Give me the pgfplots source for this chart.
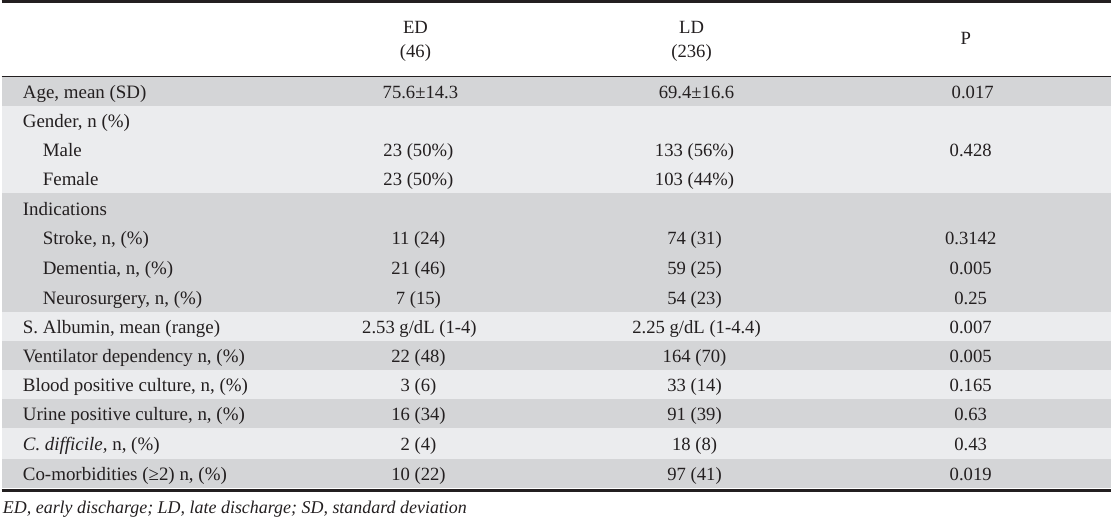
\documentclass[border=0pt]{standalone}
\usepackage{fontspec}
\setmainfont{Liberation Serif}
\usepackage{pgfplots}
\pgfplotsset{compat=1.18}
\definecolor{bandD}{HTML}{D4D5D7}
\definecolor{bandL}{HTML}{EBECEE}
\definecolor{txt}{HTML}{231F20}
\tikzset{tl/.style={font=\fontsize{19}{22}\selectfont,text=txt,inner sep=0pt,anchor=base west},
         tc/.style={font=\fontsize{18.7}{22}\selectfont,text=txt,inner sep=0pt,anchor=base}}
\begin{document}
\begin{tikzpicture}
\begin{axis}[width=1113pt,height=521pt,scale only axis,hide axis,
  xmin=0,xmax=1113,ymin=0,ymax=521,y dir=reverse,clip=false]
% bands
\addplot[fill=bandD,draw=none] coordinates {(0,77) (1113,77) (1113,106) (0,106)} -- cycle;
\addplot[fill=bandL,draw=none] coordinates {(0,106) (1113,106) (1113,194) (0,194)} -- cycle;
\addplot[fill=bandD,draw=none] coordinates {(0,194) (1113,194) (1113,313) (0,313)} -- cycle;
\addplot[fill=bandL,draw=none] coordinates {(0,313) (1113,313) (1113,342) (0,342)} -- cycle;
\addplot[fill=bandD,draw=none] coordinates {(0,342) (1113,342) (1113,371) (0,371)} -- cycle;
\addplot[fill=bandL,draw=none] coordinates {(0,371) (1113,371) (1113,400) (0,400)} -- cycle;
\addplot[fill=bandD,draw=none] coordinates {(0,400) (1113,400) (1113,429) (0,429)} -- cycle;
\addplot[fill=bandL,draw=none] coordinates {(0,429) (1113,429) (1113,460) (0,460)} -- cycle;
\addplot[fill=bandD,draw=none] coordinates {(0,460) (1113,460) (1113,490) (0,490)} -- cycle;
% rules
\addplot[draw=txt,line width=3.5pt] coordinates {(0,1.75) (1113,1.75)};
\addplot[draw=txt,line width=1.3pt] coordinates {(0,77) (1113,77)};
\addplot[draw=txt,line width=3.5pt] coordinates {(0,492) (1113,492)};
\addplot[draw=none] coordinates {(0,0) (1113,521)};
% header
\node[tc] at (axis cs:415,34) {ED};
\node[tc] at (axis cs:415,58) {(46)};
\node[tc] at (axis cs:692,34) {LD};
\node[tc] at (axis cs:692,58) {(236)};
\node[tc] at (axis cs:967,45) {P};
% rows
\node[tl] at (axis cs:21,98.5) {Age, mean (SD)};
\node[tc] at (axis cs:420,98.5) {75.6±14.3};
\node[tc] at (axis cs:697,98.5) {69.4±16.6};
\node[tc] at (axis cs:974,98.5) {0.017};
\node[tl] at (axis cs:21,127.7) {Gender, n (\%)};
\node[tl] at (axis cs:41,157) {Male};
\node[tc] at (axis cs:418,157) {23 (50\%)};
\node[tc] at (axis cs:695,157) {133 (56\%)};
\node[tc] at (axis cs:972,157) {0.428};
\node[tl] at (axis cs:41,186.3) {Female};
\node[tc] at (axis cs:418,186.3) {23 (50\%)};
\node[tc] at (axis cs:695,186.3) {103 (44\%)};
\node[tl] at (axis cs:21,216) {Indications};
\node[tl] at (axis cs:41,245.6) {Stroke, n, (\%)};
\node[tc] at (axis cs:418,245.6) {11 (24)};
\node[tc] at (axis cs:695,245.6) {74 (31)};
\node[tc] at (axis cs:972,245.6) {0.3142};
\node[tl] at (axis cs:41,275.4) {Dementia, n, (\%)};
\node[tc] at (axis cs:418,275.4) {21 (46)};
\node[tc] at (axis cs:695,275.4) {59 (25)};
\node[tc] at (axis cs:972,275.4) {0.005};
\node[tl] at (axis cs:41,305.1) {Neurosurgery, n, (\%)};
\node[tc] at (axis cs:418,305.1) {7 (15)};
\node[tc] at (axis cs:695,305.1) {54 (23)};
\node[tc] at (axis cs:972,305.1) {0.25};
\node[tl] at (axis cs:21,334.5) {S. Albumin, mean (range)};
\node[tc] at (axis cs:419,334.5) {2.53 g/dL (1-4)};
\node[tc] at (axis cs:697,334.5) {2.25 g/dL (1-4.4)};
\node[tc] at (axis cs:972,334.5) {0.007};
\node[tl] at (axis cs:21,363.5) {Ventilator dependency n, (\%)};
\node[tc] at (axis cs:418,363.5) {22 (48)};
\node[tc] at (axis cs:695,363.5) {164 (70)};
\node[tc] at (axis cs:972,363.5) {0.005};
\node[tl] at (axis cs:21,392.5) {Blood positive culture, n, (\%)};
\node[tc] at (axis cs:418,392.5) {3 (6)};
\node[tc] at (axis cs:695,392.5) {33 (14)};
\node[tc] at (axis cs:972,392.5) {0.165};
\node[tl] at (axis cs:21,421.5) {Urine positive culture, n, (\%)};
\node[tc] at (axis cs:418,421.5) {16 (34)};
\node[tc] at (axis cs:695,421.5) {91 (39)};
\node[tc] at (axis cs:972,421.5) {0.63};
\node[tl] at (axis cs:21,451.5) {\textit{C. difficile,} n, (\%)};
\node[tc] at (axis cs:418,451.5) {2 (4)};
\node[tc] at (axis cs:695,451.5) {18 (8)};
\node[tc] at (axis cs:972,451.5) {0.43};
\node[tl] at (axis cs:21,482) {Co-morbidities (≥2) n, (\%)};
\node[tc] at (axis cs:418,482) {10 (22)};
\node[tc] at (axis cs:695,482) {97 (41)};
\node[tc] at (axis cs:972,482) {0.019};
% footnote
\node[tl,font=\fontsize{18}{20}\selectfont] at (axis cs:1,515) {\textit{ED, early discharge; LD, late discharge; SD, standard deviation}};
\end{axis}
\end{tikzpicture}
\end{document}
